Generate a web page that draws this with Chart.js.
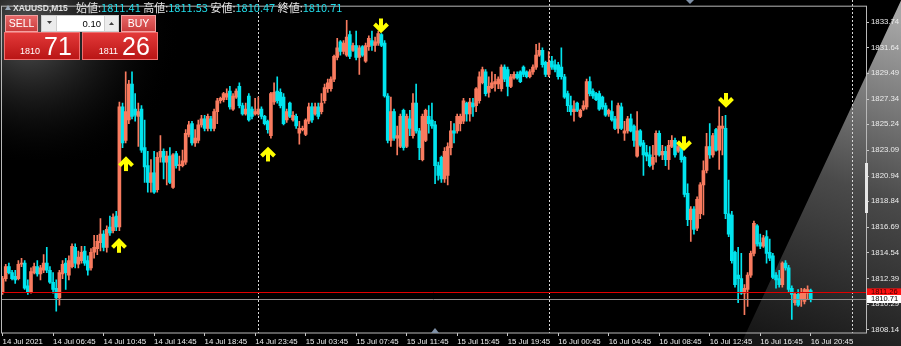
<!DOCTYPE html>
<html>
<head>
<meta charset="utf-8">
<script src="https://cdn.jsdelivr.net/npm/chart.js@4.4.0/dist/chart.umd.min.js"></script>
<style>
  html, body { margin: 0; padding: 0; background: #000; overflow: hidden; }
  #wrap { width: 901px; height: 346px; position: relative; }
</style>
</head>
<body>
<div id="wrap"><canvas id="xau-chart"></canvas></div>
<script>
// XAUUSD M15 bars, 14 Jul 2021 02:45 .. 16 Jul 2021 20:45
var opens = [
  1811.3, 1812.4, 1813.4, 1812.9, 1812.6, 1812.4, 1813.6, 1813.7, 1811.8, 1811.3,
  1812.9, 1813.4, 1812.8, 1813.1, 1813.7, 1813.1, 1812.1, 1811.6, 1810.8, 1812.8,
  1813.7, 1812.7, 1813.4, 1815.0, 1813.6, 1813.9, 1814.7, 1813.9, 1813.3, 1814.6,
  1814.9, 1815.4, 1816.1, 1815.0, 1816.7, 1816.4, 1817.6, 1816.7, 1826.7, 1823.9,
  1825.6, 1828.6, 1826.5, 1825.9, 1826.5, 1823.3, 1821.8, 1820.4, 1821.2, 1819.8,
  1822.5, 1823.0, 1822.1, 1822.6, 1820.0, 1822.8, 1821.8, 1821.8, 1822.1, 1824.4,
  1825.3, 1823.7, 1823.9, 1825.2, 1825.7, 1824.9, 1825.7, 1824.9, 1826.3, 1827.2,
  1827.3, 1827.5, 1828.0, 1826.5, 1827.5, 1828.4, 1826.8, 1826.1, 1827.6, 1826.5,
  1826.1, 1826.1, 1826.5, 1825.9, 1825.5, 1824.3, 1827.1, 1828.0, 1827.9, 1827.5,
  1825.6, 1827.0, 1825.6, 1825.9, 1824.5, 1824.8, 1824.4, 1825.5, 1826.7, 1826.1,
  1826.7, 1826.3, 1827.2, 1828.2, 1828.2, 1829.0, 1830.8, 1832.1, 1831.3, 1831.0,
  1832.7, 1831.4, 1831.8, 1830.8, 1831.7, 1830.5, 1831.7, 1832.2, 1831.8, 1832.0,
  1832.7, 1832.0, 1827.6, 1823.9, 1826.3, 1824.1, 1823.4, 1826.4, 1823.4, 1825.7,
  1824.3, 1827.0, 1824.7, 1822.3, 1823.9, 1825.9, 1825.6, 1825.2, 1821.8, 1822.5,
  1820.7, 1821.0, 1823.3, 1824.7, 1824.7, 1825.3, 1825.5, 1827.0, 1826.1, 1827.0,
  1826.8, 1827.2, 1828.7, 1829.6, 1827.9, 1828.3, 1828.6, 1828.6, 1828.2, 1830.0,
  1829.8, 1828.4, 1829.1, 1829.4, 1829.6, 1830.0, 1829.6, 1829.2, 1829.6, 1830.0,
  1831.0, 1831.4, 1830.4, 1829.4, 1830.5, 1830.2, 1830.2, 1830.0, 1829.2, 1827.8,
  1826.8, 1826.3, 1827.0, 1825.9, 1826.5, 1826.7, 1828.8, 1828.0, 1827.8, 1827.8,
  1827.5, 1826.8, 1826.1, 1826.3, 1825.7, 1824.9, 1826.7, 1824.5, 1824.7, 1825.7,
  1825.1, 1822.6, 1824.7, 1823.7, 1822.9, 1822.7, 1821.9, 1822.7, 1824.5, 1822.7,
  1823.0, 1822.3, 1823.4, 1823.9, 1823.0, 1823.3, 1822.5, 1819.5, 1817.3, 1818.2,
  1816.6, 1817.8, 1820.2, 1821.4, 1823.4, 1822.7, 1824.8, 1823.1, 1824.9, 1824.9,
  1817.8, 1817.7, 1814.6, 1812.7, 1812.4, 1811.2, 1811.5, 1812.7, 1814.5, 1816.8,
  1815.4, 1815.1, 1815.9, 1814.6, 1814.3, 1812.7, 1812.4, 1811.9, 1813.7, 1813.3,
  1811.6, 1810.4, 1811.1, 1810.7, 1810.5, 1811.2, 1811.41
];
var highs = [
  1812.6, 1813.6, 1813.7, 1813.1, 1813.1, 1813.9, 1814.1, 1813.9, 1812.3, 1813.3,
  1813.7, 1813.9, 1813.5, 1814.4, 1815.0, 1813.4, 1812.9, 1812.3, 1813.1, 1813.9,
  1814.1, 1814.3, 1815.3, 1815.3, 1814.7, 1815.1, 1815.1, 1814.3, 1814.9, 1816.0,
  1816.0, 1817.4, 1816.4, 1816.8, 1817.6, 1817.8, 1818.0, 1827.1, 1827.0, 1829.6,
  1828.9, 1829.6, 1827.8, 1827.0, 1826.8, 1825.6, 1823.0, 1822.3, 1823.0, 1822.9,
  1824.3, 1823.2, 1823.0, 1823.3, 1822.8, 1823.0, 1822.6, 1823.1, 1824.8, 1825.5,
  1825.5, 1824.8, 1825.6, 1826.0, 1826.0, 1826.1, 1825.9, 1826.5, 1827.4, 1827.5,
  1827.9, 1828.2, 1828.4, 1827.8, 1828.2, 1828.7, 1827.0, 1827.0, 1827.8, 1826.7,
  1827.4, 1827.5, 1826.7, 1826.0, 1825.6, 1827.9, 1828.7, 1829.2, 1828.2, 1827.8,
  1826.5, 1827.1, 1826.3, 1826.1, 1825.5, 1825.1, 1825.7, 1827.0, 1827.0, 1827.0,
  1827.0, 1827.8, 1828.6, 1829.0, 1829.2, 1831.0, 1832.4, 1832.2, 1832.2, 1833.9,
  1833.0, 1832.0, 1833.0, 1831.8, 1831.8, 1832.0, 1832.6, 1833.0, 1832.5, 1833.0,
  1832.8, 1832.2, 1827.8, 1827.5, 1826.5, 1825.1, 1826.1, 1826.5, 1826.1, 1826.4,
  1827.8, 1828.6, 1824.9, 1826.1, 1826.5, 1826.8, 1827.0, 1825.5, 1822.1, 1822.6,
  1823.3, 1823.7, 1825.5, 1825.3, 1826.1, 1826.1, 1827.4, 1827.1, 1827.4, 1827.4,
  1828.3, 1829.6, 1830.0, 1829.8, 1829.2, 1829.6, 1829.4, 1829.2, 1830.2, 1830.2,
  1830.0, 1829.4, 1829.6, 1829.6, 1829.7, 1830.1, 1829.7, 1829.8, 1830.2, 1831.9,
  1832.0, 1831.6, 1830.5, 1831.3, 1830.9, 1830.6, 1830.4, 1831.6, 1829.4, 1828.0,
  1827.6, 1827.2, 1827.1, 1826.5, 1827.2, 1829.0, 1829.2, 1828.2, 1827.9, 1828.0,
  1827.6, 1827.0, 1826.5, 1827.2, 1825.9, 1827.0, 1827.0, 1825.5, 1825.9, 1826.1,
  1825.2, 1826.3, 1824.8, 1823.9, 1823.5, 1823.4, 1823.5, 1824.7, 1824.7, 1823.5,
  1823.4, 1823.9, 1824.3, 1824.1, 1823.7, 1823.4, 1822.6, 1820.3, 1818.4, 1818.4,
  1819.2, 1820.4, 1822.2, 1824.5, 1825.3, 1824.5, 1824.9, 1826.7, 1825.9, 1826.0,
  1820.6, 1818.0, 1814.7, 1815.0, 1814.5, 1811.9, 1812.9, 1814.7, 1817.2, 1816.9,
  1816.1, 1816.0, 1816.4, 1815.7, 1814.5, 1812.9, 1813.1, 1813.8, 1813.9, 1813.5,
  1811.8, 1811.2, 1811.5, 1811.6, 1811.6, 1811.8, 1811.53
];
var lows = [
  1811.1, 1812.2, 1812.8, 1812.3, 1812.0, 1812.3, 1813.4, 1811.5, 1811.1, 1811.2,
  1812.8, 1812.6, 1812.3, 1812.9, 1812.9, 1812.0, 1811.2, 1809.7, 1810.2, 1812.4,
  1811.5, 1812.3, 1813.3, 1813.3, 1813.3, 1813.7, 1813.5, 1812.7, 1813.1, 1814.1,
  1814.4, 1814.7, 1814.7, 1814.6, 1816.0, 1816.2, 1816.4, 1816.4, 1823.3, 1823.7,
  1825.3, 1825.7, 1825.5, 1823.4, 1822.9, 1820.4, 1819.6, 1819.6, 1819.5, 1819.6,
  1822.1, 1820.7, 1820.2, 1820.3, 1819.9, 1821.6, 1821.4, 1821.7, 1821.9, 1824.2,
  1823.5, 1823.4, 1823.7, 1825.0, 1824.7, 1824.7, 1824.7, 1824.7, 1825.3, 1827.0,
  1827.1, 1827.3, 1826.5, 1826.4, 1827.4, 1826.6, 1826.0, 1826.0, 1825.5, 1825.7,
  1826.0, 1826.0, 1825.7, 1825.2, 1824.5, 1824.1, 1826.9, 1827.0, 1826.6, 1825.2,
  1825.4, 1825.8, 1825.5, 1824.9, 1823.6, 1824.7, 1824.3, 1825.3, 1825.4, 1826.0,
  1825.7, 1826.1, 1827.0, 1827.9, 1828.0, 1828.8, 1830.6, 1831.0, 1831.1, 1830.9,
  1830.7, 1831.3, 1830.6, 1829.4, 1830.9, 1830.4, 1831.4, 1831.4, 1831.3, 1831.8,
  1831.7, 1827.5, 1823.7, 1823.4, 1823.9, 1822.7, 1823.3, 1823.1, 1823.3, 1824.3,
  1824.1, 1824.5, 1822.3, 1822.2, 1823.8, 1824.5, 1824.9, 1820.3, 1820.6, 1820.4,
  1820.4, 1820.2, 1822.7, 1823.7, 1824.5, 1824.7, 1825.3, 1825.5, 1825.5, 1825.9,
  1826.3, 1827.0, 1828.6, 1827.6, 1827.5, 1828.2, 1828.0, 1828.2, 1828.0, 1828.8,
  1827.6, 1828.3, 1829.0, 1829.0, 1828.7, 1829.2, 1829.1, 1829.1, 1829.4, 1829.8,
  1830.9, 1830.0, 1829.2, 1829.2, 1829.8, 1829.6, 1829.0, 1829.0, 1827.4, 1826.3,
  1826.0, 1825.5, 1826.3, 1825.8, 1826.4, 1826.5, 1827.6, 1827.4, 1827.2, 1826.4,
  1826.5, 1825.9, 1825.9, 1825.5, 1824.8, 1824.5, 1824.8, 1823.9, 1824.5, 1824.6,
  1823.4, 1822.5, 1823.4, 1821.0, 1822.2, 1821.7, 1821.5, 1822.1, 1822.6, 1822.3,
  1821.8, 1821.5, 1823.3, 1822.5, 1822.9, 1822.1, 1819.2, 1816.8, 1815.5, 1816.1,
  1816.4, 1817.4, 1817.7, 1821.2, 1822.4, 1822.5, 1823.0, 1821.5, 1822.7, 1817.4,
  1815.9, 1813.7, 1811.7, 1810.4, 1811.1, 1809.4, 1810.1, 1812.5, 1814.3, 1815.1,
  1814.9, 1815.0, 1813.7, 1813.9, 1812.4, 1811.6, 1811.7, 1811.7, 1813.1, 1811.3,
  1809.0, 1810.2, 1810.1, 1810.1, 1810.3, 1810.7, 1810.47
];
var closes = [
  1812.4, 1813.4, 1812.9, 1812.4, 1812.3, 1813.6, 1813.7, 1811.6, 1811.3, 1813.0,
  1813.4, 1812.8, 1813.3, 1813.7, 1813.1, 1812.1, 1811.5, 1810.8, 1812.9, 1813.6,
  1812.9, 1813.9, 1815.1, 1813.7, 1814.2, 1814.6, 1813.7, 1813.1, 1814.6, 1815.0,
  1815.5, 1816.1, 1815.0, 1816.5, 1816.2, 1817.5, 1816.7, 1826.7, 1823.7, 1826.3,
  1828.6, 1825.9, 1826.0, 1826.3, 1823.1, 1821.7, 1820.4, 1821.2, 1819.6, 1822.5,
  1823.0, 1822.1, 1822.6, 1820.4, 1822.7, 1821.8, 1821.9, 1822.2, 1824.5, 1825.2,
  1823.7, 1824.1, 1825.2, 1825.7, 1824.9, 1825.9, 1824.9, 1826.3, 1827.2, 1827.4,
  1827.8, 1827.8, 1826.7, 1827.6, 1828.0, 1826.8, 1826.1, 1826.5, 1825.6, 1825.9,
  1826.3, 1826.5, 1825.9, 1825.3, 1824.8, 1827.8, 1827.9, 1827.2, 1826.8, 1825.3,
  1826.3, 1825.9, 1826.0, 1825.1, 1824.9, 1824.9, 1825.6, 1826.7, 1825.6, 1826.7,
  1825.9, 1827.0, 1828.3, 1828.7, 1829.0, 1830.9, 1831.6, 1831.3, 1832.0, 1832.5,
  1830.9, 1831.8, 1830.8, 1831.6, 1831.0, 1831.8, 1832.4, 1831.8, 1832.1, 1832.8,
  1831.8, 1827.6, 1823.9, 1826.3, 1824.1, 1824.3, 1825.9, 1823.3, 1825.9, 1824.9,
  1827.0, 1824.7, 1823.3, 1825.9, 1826.4, 1825.3, 1825.1, 1821.8, 1821.0, 1820.7,
  1823.0, 1823.4, 1824.7, 1824.5, 1825.9, 1825.9, 1827.2, 1826.1, 1827.1, 1826.7,
  1828.2, 1829.2, 1829.8, 1827.8, 1828.4, 1828.7, 1828.8, 1829.0, 1830.0, 1829.0,
  1828.4, 1829.2, 1829.4, 1829.1, 1828.8, 1829.4, 1829.2, 1829.6, 1830.0, 1831.0,
  1831.4, 1830.2, 1829.4, 1830.4, 1830.0, 1829.8, 1829.2, 1829.2, 1827.5, 1826.8,
  1826.3, 1826.5, 1826.4, 1826.4, 1826.8, 1828.8, 1827.8, 1827.6, 1827.3, 1826.5,
  1826.7, 1826.0, 1826.4, 1825.6, 1824.9, 1826.8, 1824.9, 1824.7, 1825.7, 1824.7,
  1823.9, 1824.7, 1823.5, 1822.7, 1822.6, 1821.8, 1822.5, 1824.5, 1822.7, 1823.0,
  1822.3, 1823.5, 1823.9, 1822.7, 1823.4, 1822.3, 1819.4, 1817.3, 1818.2, 1816.5,
  1819.0, 1820.2, 1821.4, 1823.4, 1822.7, 1824.3, 1823.1, 1825.1, 1825.1, 1817.8,
  1816.1, 1813.9, 1811.9, 1812.4, 1811.2, 1811.6, 1812.7, 1814.5, 1817.0, 1815.3,
  1815.1, 1815.8, 1814.5, 1814.1, 1812.5, 1812.3, 1811.9, 1813.7, 1813.3, 1811.5,
  1811.1, 1811.1, 1810.2, 1811.2, 1811.5, 1811.5, 1810.71
];

// Time axis: one label every 16 bars
var timeTicks = [
  "14 Jul 2021", "14 Jul 06:45", "14 Jul 10:45", "14 Jul 14:45", "14 Jul 18:45",
  "14 Jul 23:45", "15 Jul 03:45", "15 Jul 07:45", "15 Jul 11:45", "15 Jul 15:45",
  "15 Jul 19:45", "16 Jul 00:45", "16 Jul 04:45", "16 Jul 08:45", "16 Jul 12:45",
  "16 Jul 16:45", "16 Jul 20:45"
];
var barsPerTick = 16;
var emptySlots = 17; // chart shift space after the last bar

// Price axis
var priceTicks = [1833.74, 1831.64, 1829.49, 1827.34, 1825.24, 1823.09, 1820.94,
  1818.84, 1816.69, 1814.54, 1812.39, 1810.29, 1808.14];
var bid = 1810.71;
var ask = 1811.26;

// Day separators (bar index of first bar of each day)
var daySeparators = [81, 173, 269];

// Signal arrows
var arrowBars = [37, 39, 84, 120, 216, 229];
var arrowPrices = [1815.8, 1822.6, 1823.4, 1832.8, 1823.0, 1826.6];
var arrowDirs = ["up", "up", "up", "down", "down", "down"];

var BULL = "#f97b5f";
var BEAR = "#00e4ee";
var FONT = "'Liberation Sans', 'DejaVu Sans', sans-serif";

// Build chart data
var slots = [];
for (var i = 0; i < closes.length + emptySlots; i++) slots.push(i);
var bodies = [], wicks = [], colors = [];
for (var i = 0; i < closes.length; i++) {
  bodies.push([Math.min(opens[i], closes[i]), Math.max(opens[i], closes[i])]);
  wicks.push([lows[i], highs[i]]);
  colors.push(closes[i] >= opens[i] ? BULL : BEAR);
}

function drawArrow(ctx, x, yTip, dir) {
  // dir: -1 tip up, +1 tip down
  var len = 15, hw = 6.5;
  x = Math.round(x);
  ctx.strokeStyle = "#ffff00";
  ctx.lineWidth = 4;
  ctx.lineJoin = "miter";
  ctx.lineCap = "butt";
  ctx.beginPath();
  ctx.moveTo(x, yTip - dir * len);
  ctx.lineTo(x, yTip - dir * 3);
  ctx.stroke();
  ctx.beginPath();
  ctx.moveTo(x - hw, yTip - dir * (hw + 3));
  ctx.lineTo(x, yTip - dir * 3);
  ctx.lineTo(x + hw, yTip - dir * (hw + 3));
  ctx.stroke();
}

function redButton(ctx, x, y, w, h, text) {
  var g = ctx.createLinearGradient(0, y, 0, y + h);
  g.addColorStop(0, "#e86a6a");
  g.addColorStop(1, "#c93a3a");
  ctx.fillStyle = g;
  ctx.fillRect(x, y, w, h);
  ctx.strokeStyle = "#f3a0a0";
  ctx.lineWidth = 1;
  ctx.strokeRect(x + 0.5, y + 0.5, w - 1, h - 1);
  ctx.fillStyle = "#ffffff";
  ctx.font = "10.5px " + FONT;
  ctx.textAlign = "center";
  ctx.textBaseline = "middle";
  ctx.fillText(text, x + w / 2, y + h / 2 + 0.5);
}

function pricePanel(ctx, x, y, w, h, big, small) {
  var g = ctx.createLinearGradient(0, y, 0, y + h);
  g.addColorStop(0, "#e43a3a");
  g.addColorStop(1, "#b81414");
  ctx.fillStyle = g;
  ctx.fillRect(x, y, w, h);
  ctx.strokeStyle = "#f07070";
  ctx.strokeRect(x + 0.5, y + 0.5, w - 1, h - 1);
  ctx.fillStyle = "#ffffff";
  ctx.textBaseline = "alphabetic";
  ctx.textAlign = "right";
  ctx.font = "9px " + FONT;
  ctx.fillText(small, x + 36, y + 22);
  ctx.textAlign = "left";
  ctx.font = "25px " + FONT;
  ctx.fillText(big, x + 40, y + 23);
}

var mt4Plugin = {
  id: "mt4",
  beforeDraw: function (chart) {
    var ctx = chart.ctx, W = chart.width, H = chart.height;
    ctx.save();
    ctx.fillStyle = "#000";
    ctx.fillRect(0, 0, W, H);
    // glow behind the trade panel
    var rg = ctx.createRadialGradient(25, 30, 5, 40, 35, 140);
    rg.addColorStop(0, "rgba(85,85,85,1)");
    rg.addColorStop(1, "rgba(0,0,0,0)");
    ctx.fillStyle = rg;
    ctx.fillRect(0, 0, 240, 160);
    // light wedge on the right
    var lg = ctx.createLinearGradient(780, H, 900, 20);
    lg.addColorStop(0, "#161616");
    lg.addColorStop(0.5, "#4a4a4a");
    lg.addColorStop(1, "#a6a6a6");
    ctx.fillStyle = lg;
    ctx.beginPath();
    ctx.moveTo(740, H);
    ctx.lineTo(905, -8);
    ctx.lineTo(W, -8);
    ctx.lineTo(W, H);
    ctx.closePath();
    ctx.fill();
    ctx.restore();
  },
  beforeDatasetsDraw: function (chart) {
    var ctx = chart.ctx, xs = chart.scales.x, area = chart.chartArea;
    ctx.save();
    ctx.strokeStyle = "#d8d8d8";
    ctx.lineWidth = 1;
    ctx.setLineDash([2, 2]);
    daySeparators.forEach(function (b) {
      var x = Math.round(xs.getPixelForValue(b)) + 0.5;
      ctx.beginPath();
      ctx.moveTo(x, 0);
      ctx.lineTo(x, area.bottom);
      ctx.stroke();
    });
    ctx.restore();
  },
  afterDatasetsDraw: function (chart) {
    var ctx = chart.ctx, xs = chart.scales.x, ys = chart.scales.y, area = chart.chartArea;
    ctx.save();
    var yb = Math.round(ys.getPixelForValue(bid)) + 0.5;
    var ya = Math.round(ys.getPixelForValue(ask)) + 0.5;
    ctx.lineWidth = 1;
    ctx.strokeStyle = "#8c8c8c";
    ctx.beginPath(); ctx.moveTo(area.left, yb); ctx.lineTo(area.right, yb); ctx.stroke();
    ctx.strokeStyle = "#e00000";
    ctx.beginPath(); ctx.moveTo(area.left, ya); ctx.lineTo(area.right, ya); ctx.stroke();
    for (var i = 0; i < arrowBars.length; i++) {
      drawArrow(ctx, xs.getPixelForValue(arrowBars[i]), ys.getPixelForValue(arrowPrices[i]),
        arrowDirs[i] === "up" ? -1 : 1);
    }
    ctx.restore();
  },
  afterDraw: function (chart) {
    var ctx = chart.ctx, ys = chart.scales.y, area = chart.chartArea, W = chart.width;
    ctx.save();
    // frame
    ctx.strokeStyle = "#b8b8b8";
    ctx.lineWidth = 1;
    ctx.strokeRect(area.left + 0.5, area.top - 0.5, area.right - area.left, area.bottom - area.top + 0.5);
    // scale handle
    ctx.fillStyle = "#e6e6e6";
    ctx.fillRect(area.right - 1, 163, 3, 50);
    // shift markers
    ctx.fillStyle = "#7f90a6";
    ctx.beginPath(); ctx.moveTo(686, 0); ctx.lineTo(694, 0); ctx.lineTo(690, 4); ctx.fill();
    ctx.beginPath(); ctx.moveTo(431, 333); ctx.lineTo(439, 333); ctx.lineTo(435, 328); ctx.fill();
    // bid / ask price boxes
    ctx.font = "7.5px " + FONT;
    ctx.textBaseline = "middle";
    ctx.textAlign = "left";
    var ya = ys.getPixelForValue(ask), yb = ys.getPixelForValue(bid);
    ctx.fillStyle = "#ff1010";
    ctx.fillRect(area.right + 1, ya - 4, W - area.right - 1, 8);
    ctx.fillStyle = "#3a0000";
    ctx.fillText(ask.toFixed(2), area.right + 5, ya);
    ctx.fillStyle = "#ffffff";
    ctx.fillRect(area.right + 1, yb - 4, W - area.right - 1, 8);
    ctx.fillStyle = "#000000";
    ctx.fillText(bid.toFixed(2), area.right + 5, yb);

    // header
    var last = closes.length - 1;
    ctx.fillStyle = "#9aa8b8";
    ctx.beginPath(); ctx.moveTo(5, 10); ctx.lineTo(11, 10); ctx.lineTo(8, 5); ctx.fill();
    ctx.fillStyle = "#e0e0e0";
    ctx.font = "bold 8.5px " + FONT;
    ctx.textBaseline = "alphabetic";
    ctx.fillText("XAUUSD,M15", 13, 11);
    var parts = [
      ["始値:", opens[last].toFixed(2)],
      ["高値:", highs[last].toFixed(2)],
      ["安値:", lows[last].toFixed(2)],
      ["終値:", closes[last].toFixed(2)]
    ];
    var x = 76;
    ctx.font = "11px 'Noto Sans CJK JP', sans-serif";
    parts.forEach(function (p) {
      ctx.fillStyle = "#e6e6e6";
      ctx.fillText(p[0], x, 12);
      x += ctx.measureText(p[0]).width;
      ctx.fillStyle = "#22dbe8";
      ctx.fillText(p[1], x, 12);
      x += ctx.measureText(p[1] + " ").width;
    });

    // one-click trading panel
    redButton(ctx, 5, 15, 33, 17, "SELL");
    redButton(ctx, 121, 15, 35, 17, "BUY");
    ctx.fillStyle = "#cfcfcf";
    ctx.fillRect(41, 15, 78, 17);
    ctx.fillStyle = "#ffffff";
    ctx.fillRect(57, 16, 47, 15);
    ctx.fillStyle = "#ececec";
    ctx.fillRect(42, 16, 14, 15);
    ctx.fillRect(105, 16, 13, 15);
    ctx.fillStyle = "#404040";
    ctx.beginPath(); ctx.moveTo(47, 21); ctx.lineTo(52, 21); ctx.lineTo(49.5, 24); ctx.fill();
    ctx.beginPath(); ctx.moveTo(109, 25); ctx.lineTo(114, 25); ctx.lineTo(111.5, 22); ctx.fill();
    ctx.fillStyle = "#000000";
    ctx.font = "9.5px " + FONT;
    ctx.textAlign = "right";
    ctx.textBaseline = "middle";
    ctx.fillText("0.10", 101, 24);
    var sellP = bid.toFixed(2), buyP = ask.toFixed(2);
    pricePanel(ctx, 4, 32, 76, 28, sellP.slice(5), sellP.slice(0, 4));
    pricePanel(ctx, 82, 32, 76, 28, buyP.slice(5), buyP.slice(0, 4));
    ctx.restore();
  }
};

var ctx = document.getElementById("xau-chart").getContext("2d");
var chart = new Chart(ctx, {
  type: "bar",
  data: {
    labels: slots,
    datasets: [
      {
        label: "body",
        data: bodies,
        backgroundColor: colors,
        borderWidth: 0,
        barThickness: 3,
        minBarLength: 1,
        grouped: false
      },
      {
        label: "wick",
        data: wicks,
        backgroundColor: colors,
        borderWidth: 0,
        barThickness: 1,
        minBarLength: 1,
        grouped: false
      }
    ]
  },
  options: {
    responsive: true,
    maintainAspectRatio: false,
    animation: false,
    devicePixelRatio: 1,
    layout: { padding: { left: 1, top: 1, right: 0, bottom: 0 } },
    plugins: { legend: { display: false }, tooltip: { enabled: false } },
    scales: {
      x: {
        type: "category",
        offset: true,
        border: { display: false },
        grid: { drawOnChartArea: false, offset: false, tickLength: 3, color: "#c8c8c8" },
        afterBuildTicks: function (s) {
          s.ticks = s.ticks.filter(function (t) {
            return t.value % barsPerTick === 0 && t.value / barsPerTick < timeTicks.length;
          });
        },
        afterFit: function (s) { s.height = 13; },
        ticks: {
          autoSkip: false,
          maxRotation: 0,
          minRotation: 0,
          align: "start",
          padding: 1,
          color: "#ececec",
          font: { family: FONT, size: 7.8 },
          callback: function (v) { return timeTicks[v / barsPerTick]; }
        }
      },
      y: {
        position: "right",
        min: 1807.88,
        max: 1835.03,
        border: { display: false },
        grid: { drawOnChartArea: false, tickLength: 3, color: "#c8c8c8" },
        afterBuildTicks: function (s) {
          s.ticks = priceTicks.map(function (v) { return { value: v }; });
        },
        afterFit: function (s) { s.width = 35; },
        ticks: {
          autoSkip: false,
          padding: 2,
          color: "#ececec",
          font: { family: FONT, size: 7.8 },
          callback: function (v) { return Number(v).toFixed(2); }
        }
      }
    }
  },
  plugins: [mt4Plugin]
});
</script>
</body>
</html>
